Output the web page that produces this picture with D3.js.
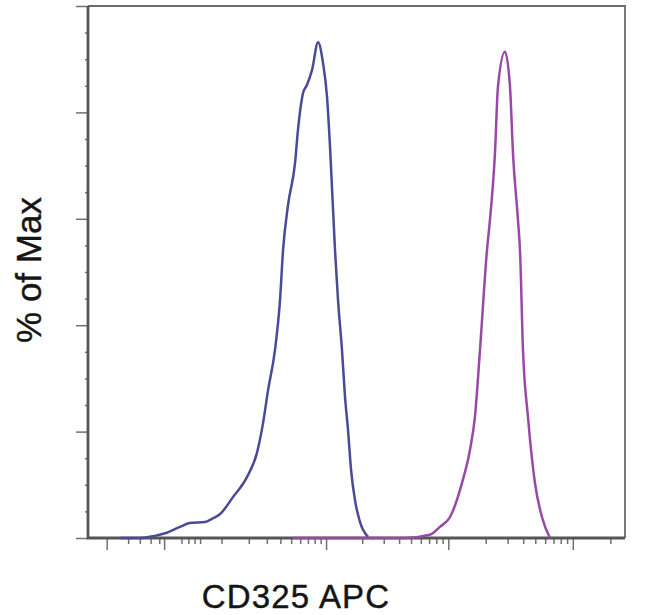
<!DOCTYPE html>
<html>
<head>
<meta charset="utf-8">
<script src="https://cdn.jsdelivr.net/npm/d3@7"></script>
<style>
  html, body { margin: 0; padding: 0; background: #fff; }
  svg { display: block; }
  text { font-family: "Liberation Sans", Arial, sans-serif; fill: #151515; stroke: #151515; stroke-width: 0.4px; }
</style>
</head>
<body>
<div id="chart"></div>
<script>
// CD325 APC fluorescence (x) vs % of Max (y)
const blueX = [-66, -30, -10, 1, 18, 32, 60, 75, 96, 136, 192, 241, 276, 308, 357, 397, 423,
  469, 541, 574, 635, 688, 760, 855, 942, 1019, 1080, 1189, 1260, 1360, 1441, 1526, 1617,
  1743, 1918, 2230];
const blueY = [0, 0, 0.4, 0.9, 2.1, 2.8, 3.0, 3.6, 4.5, 7.7, 11.5, 16.0, 21.6, 27.8, 35.3,
  44.7, 54.1, 62.6, 70.5, 76.7, 83.6, 85.2, 88.0, 93.2, 89.3, 82.9, 73.5, 54.1, 44.7, 35.3,
  26.5, 20.3, 12.8, 7.1, 3.0, 0.2];

const magentaX = [519, 4463, 7107, 8560, 10300, 12880, 14920, 16370, 17980, 20470, 21630,
  23740, 25080, 28550, 31340, 33110, 36310, 37690, 39860, 43710, 49730, 56620, 65620];
const magentaY = [0, 0, 0.6, 2.1, 3.9, 10.3, 16.5, 22.7, 35.3, 54.1, 59.8, 72.4, 84.8, 91.4,
  84.8, 72.4, 59.8, 54.1, 35.3, 22.7, 10.3, 3.9, 0];

// axis ticks
const xMajorTicks = [-100, 0, 1000, 10000, 100000];
const xMinorTicks = [-50, -30, -15, -5, 20, 30, 40, 50, 100, 200, 300, 400, 500, 600, 700, 800,
  900, 2000, 3000, 4000, 5000, 6000, 7000, 8000, 9000, 20000, 30000, 40000, 50000, 60000,
  70000, 80000, 90000, 200000];
const yMajorTicks = [0, 20, 40, 60, 80, 100];
const yMinorTicks = [5, 10, 15, 25, 30, 35, 45, 50, 55, 65, 70, 75, 85, 90, 95];

const width = 650, height = 615;
const margin = {top: 6, right: 25, bottom: 77, left: 88};
const w = width - margin.left - margin.right,
      h = height - margin.top - margin.bottom;

const svg = d3.select("#chart").append("svg")
    .attr("width", width)
    .attr("height", height);
const g = svg.append("g")
    .attr("transform", "translate(" + margin.left + "," + margin.top + ")");

const x = d3.scaleSymlog().constant(53).domain([-163, 262144]).range([0, w]);
const y = d3.scaleLinear().domain([0, 100]).range([h, 0]);

// frame (top + right)
g.append("path")
    .attr("d", "M0,0H" + w + "V" + h)
    .attr("fill", "none")
    .attr("stroke", "#6a6a6a")
    .attr("stroke-width", 1.8);

// tick marks only, no labels
function styleAxis(sel) {
  sel.select(".domain").remove();
  sel.selectAll(".tick line").attr("stroke", "#707070").attr("stroke-width", 1.5);
  sel.selectAll(".tick text").remove();
}
g.append("g").call(d3.axisLeft(y).tickValues(yMajorTicks).tickSize(12)).call(styleAxis);
g.append("g").call(d3.axisLeft(y).tickValues(yMinorTicks).tickSize(3)).call(styleAxis);

g.append("g").attr("transform", "translate(0," + h + ")")
    .call(d3.axisBottom(x).tickValues(xMajorTicks).tickSize(12)).call(styleAxis);
g.append("g").attr("transform", "translate(0," + h + ")")
    .call(d3.axisBottom(x).tickValues(xMinorTicks).tickSize(6)).call(styleAxis);

// main axis lines (left + bottom)
g.append("path")
    .attr("d", "M0,0V" + h + "H" + w)
    .attr("fill", "none")
    .attr("stroke", "#555")
    .attr("stroke-width", 2.8);

const line = d3.line()
    .x(d => x(d[0]))
    .y(d => y(d[1]))
    .curve(d3.curveMonotoneX);

g.append("path")
    .datum(blueX.map((v, i) => [v, blueY[i]]))
    .attr("d", line)
    .attr("fill", "none")
    .attr("stroke", "#4a4a98")
    .attr("stroke-width", 2.5)
    .attr("stroke-linejoin", "round");

g.append("path")
    .datum(magentaX.map((v, i) => [v, magentaY[i]]))
    .attr("d", line)
    .attr("fill", "none")
    .attr("stroke", "#9a48a8")
    .attr("stroke-width", 2.5)
    .attr("stroke-linejoin", "round");

// labels
svg.append("text")
    .attr("x", 296)
    .attr("y", 608)
    .attr("text-anchor", "middle")
    .style("font-size", "33px")
    .style("letter-spacing", "1.2px")
    .text("CD325 APC");

svg.append("text")
    .attr("transform", "translate(41,270) rotate(-90)")
    .attr("text-anchor", "middle")
    .style("font-size", "35px")
    .text("% of Max");
</script>
</body>
</html>
